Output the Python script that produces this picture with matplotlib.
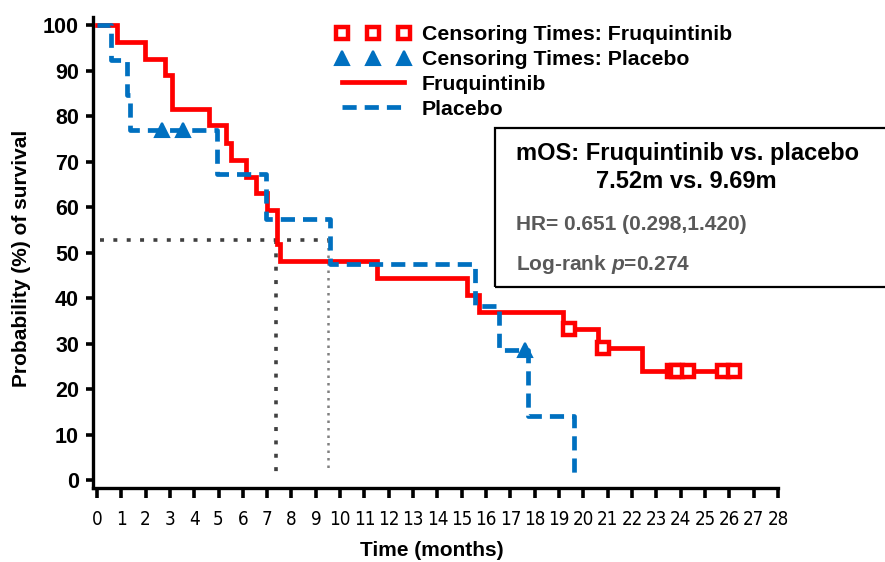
import matplotlib
matplotlib.use("Agg")
import matplotlib.pyplot as plt
from matplotlib.lines import Line2D
from matplotlib.patches import Rectangle
from matplotlib import font_manager as fm

# ---- data ----
fru_times = [0, 0.81, 1.97, 2.8, 3.07, 4.62, 5.29, 5.5, 6.11, 6.54, 6.98, 7.41, 7.52, 11.5, 15.23, 15.72, 19.17, 20.6, 22.4]
fru_surv = [100, 96.2, 92.6, 89.0, 81.5, 78.0, 74.0, 70.4, 66.7, 63.0, 59.3, 51.8, 48.1, 44.4, 40.7, 37.0, 33.3, 29.1, 24.0]
fru_end = 26.3
fru_cens_t = [19.42, 20.8, 23.67, 23.85, 24.29, 25.75, 26.19]
fru_cens_s = [33.3, 29.1, 24.0, 24.0, 24.0, 24.0, 24.0]

pla_times = [0, 0.6, 1.22, 1.36, 4.92, 6.94, 9.58, 15.54, 16.54, 17.73, 19.6]
pla_surv = [100, 92.3, 84.6, 76.9, 67.3, 57.3, 47.5, 38.2, 28.6, 14.0, 0]
pla_cens_t = [2.66, 3.52, 17.6]
pla_cens_s = [76.9, 76.9, 28.6]

median_level = 52.7
median_fru_x = 7.36
median_pla_x = 9.51

x_ticks = list(range(0, 29))
y_ticks = list(range(0, 101, 10))

RED = "#FF0000"
BLUE = "#0070C0"

plt.rcParams["mathtext.fontset"] = "custom"
plt.rcParams["mathtext.it"] = "Liberation Sans:italic:bold"
plt.rcParams["mathtext.rm"] = "Liberation Sans:bold"
plt.rcParams["mathtext.bf"] = "Liberation Sans:bold"

# find a condensed font for the x tick labels, if one is installed
cands = []
for f in fm.fontManager.ttflist:
    st = str(f.stretch)
    nm = f.name
    is_cond = ("Narrow" in nm or "Condensed" in nm or st in ("condensed", "semi-condensed", "extra-condensed")
               or (isinstance(f.stretch, int) and f.stretch < 500))
    if is_cond and f.style == "normal":
        w = f.weight if isinstance(f.weight, int) else (700 if f.weight == "bold" else 400)
        pri = 0 if "Liberation" in nm else 1
        cands.append((pri, abs(w - 400), f.fname))
if cands:
    cands.sort()
    cond_fp = fm.FontProperties(fname=cands[0][2], size=13.5)
else:
    cond_fp = fm.FontProperties(family=["Liberation Sans", "DejaVu Sans"], size=12)

W, H = 885, 562
fig = plt.figure(figsize=(W / 100, H / 100), dpi=100)

def fx(px):
    return px / W

def fy(py):
    return 1 - py / H

ax = fig.add_axes([fx(93), fy(488), fx(778) - fx(93), fy(17) - fy(488)])
ax.set_xlim(-0.16, 28.0)
ax.set_ylim(-1.75, 101.8)

bold = dict(family=["Liberation Sans", "DejaVu Sans"], weight="bold")

# median reference lines
ax.plot([0.12, median_pla_x], [median_level, median_level], color="#404040", lw=2.6,
        linestyle=(0, (1.1, 2.6)), dash_capstyle="butt", zorder=2)
ax.plot([median_fru_x, median_fru_x], [median_level, 1.0], color="#404040", lw=2.6,
        linestyle=(0, (1.1, 2.6)), dash_capstyle="butt", zorder=2)
ax.plot([median_pla_x, median_pla_x], [median_level, 2.0], color="#808080", lw=1.8,
        linestyle=(0, (1.0, 2.0)), dash_capstyle="butt", zorder=2)

# KM curves
ft = fru_times + [fru_end]
fs = fru_surv + [fru_surv[-1]]
ax.step(ft, fs, where="post", color=RED, lw=3.4, zorder=3, solid_joinstyle="miter")
ax.step(pla_times, pla_surv, where="post", color=BLUE, lw=3.4, linestyle=(0, (3.0, 1.7)), zorder=4)

# censor marks
ax.plot(fru_cens_t, fru_cens_s, linestyle="none", marker="s", ms=9, mfc="white", mec=RED, mew=3.2, zorder=5)
ax.plot(pla_cens_t, pla_cens_s, linestyle="none", marker="^", ms=10, mfc=BLUE, mec=BLUE, mew=1.5, zorder=5)

# axes styling
for s in ["top", "right"]:
    ax.spines[s].set_visible(False)
for s in ["left", "bottom"]:
    ax.spines[s].set_linewidth(2.4)
ax.set_xticks(x_ticks)
ax.set_yticks(y_ticks)
ax.tick_params(axis="x", direction="out", length=7, width=2.6, pad=9)
ax.tick_params(axis="y", direction="out", length=5, width=2.6, pad=5)
ax.set_xticklabels([str(t) for t in x_ticks])
for lab in ax.get_xticklabels():
    lab.set_fontproperties(cond_fp)
ax.set_yticklabels([str(t) for t in y_ticks], fontsize=15.5, **bold)

fig.text(fx(432), fy(551), "Time (months)", ha="center", va="center", fontsize=15, **bold)
fig.text(fx(22), fy(258), "Probability (%) of survival", ha="center", va="center",
         rotation=90, fontsize=15, **bold)

# legend
handles = [
    Line2D([], [], linestyle="none", marker="s", ms=9, mfc="white", mec=RED, mew=3.2),
    Line2D([], [], linestyle="none", marker="^", ms=10, mfc=BLUE, mec=BLUE, mew=1.5),
    Line2D([], [], color=RED, lw=3.4),
    Line2D([], [], color=BLUE, lw=3.4, linestyle=(0, (3.0, 1.7))),
]
labels = ["Censoring Times: Fruquintinib", "Censoring Times: Placebo", "Fruquintinib", "Placebo"]
leg = fig.legend(handles, labels, loc="upper left", bbox_to_anchor=(fx(336), fy(25)),
                 frameon=False, numpoints=3, handlelength=3.5, handletextpad=0.55,
                 labelspacing=0.28, borderaxespad=0, borderpad=0,
                 prop=dict(family=["Liberation Sans", "DejaVu Sans"], weight="bold", size=15.3))

# stats box
fig.patches.append(Rectangle((fx(495), fy(287)), fx(900) - fx(495), fy(128) - fy(287),
                             transform=fig.transFigure, fill=False, edgecolor="black", lw=1.6))
fig.text(fx(516), fy(153), "mOS: Fruquintinib vs. placebo", ha="left", va="center", fontsize=17, color="black", **bold)
fig.text(fx(596), fy(182), "7.52m vs. 9.69m", ha="left", va="center", fontsize=17, color="black", **bold)
fig.text(fx(516), fy(225), "HR= 0.651 (0.298,1.420)", ha="left", va="center", fontsize=15, color="#595959", **bold)
fig.text(fx(516), fy(265), r"Log-rank $\mathit{p}$=0.274", ha="left", va="center", fontsize=15, color="#595959", **bold)

fig.savefig("out.png", dpi=100)
